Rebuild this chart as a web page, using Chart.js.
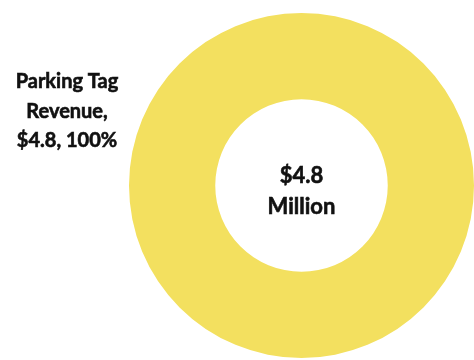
<!DOCTYPE html>
<html>
<head>
<meta charset="utf-8">
<script src="https://cdn.jsdelivr.net/npm/chart.js@4.4.1/dist/chart.umd.min.js"></script>
<style>
  html, body { margin: 0; padding: 0; background: #fff; overflow: hidden; }
  #wrap { width: 474px; height: 360px; }
</style>
</head>
<body>
<div id="wrap"><canvas id="revenue" width="474" height="360"></canvas></div>
<script>
// revenue sources (millions of dollars)
const categories = ["Parking Tag Revenue"];
const revenue = [4.8];
const sliceColors = ["#F3E05F"];
const centerLines = ["$4.8", "Million"];

const total = revenue.reduce((a, b) => a + b, 0);

// outside label, wrapped the same way the report does it
const labelLines = (i) => {
    const pct = Math.round(revenue[i] / total * 100);
    const words = categories[i].split(" ");
    return [words.slice(0, 2).join(" "), words.slice(2).join(" ") + ",", "$" + revenue[i].toFixed(1) + ", " + pct + "%"];
};

const doughnutText = {
    id: "doughnutText",
    afterDraw(chart) {
        const ctx = chart.ctx;
        const arc = chart.getDatasetMeta(0).data[0];
        ctx.save();
        ctx.fillStyle = "#111";
        ctx.strokeStyle = "#111";
        ctx.lineWidth = 0.6;
        ctx.textAlign = "center";
        ctx.textBaseline = "alphabetic";

        const put = (txt, x, y) => {
            ctx.fillText(txt, x, y);
            ctx.strokeText(txt, x, y);
        };

        // total in the hole
        ctx.font = "bold 22px Lato";
        put(centerLines[0], arc.x, arc.y - 3);
        put(centerLines[1], arc.x, arc.y + 28);

        // category label sitting left of the ring
        ctx.font = "bold 20px Lato";
        const lines = labelLines(0);
        const lx = 67, top = 88;
        lines.forEach((line, k) => put(line, lx, top + k * 29.5));
        ctx.restore();
    }
};

new Chart(document.getElementById("revenue"), {
    type: "doughnut",
    plugins: [doughnutText],
    data: {
        labels: categories,
        datasets: [{
            data: revenue,
            backgroundColor: sliceColors,
            borderWidth: 0
        }]
    },
    options: {
        responsive: false,
        animation: false,
        cutout: "50%",
        layout: { padding: { left: 129, right: -5, top: 11, bottom: 0 } },
        plugins: {
            legend: { display: false },
            tooltip: { enabled: false }
        }
    }
});
</script>
</body>
</html>
